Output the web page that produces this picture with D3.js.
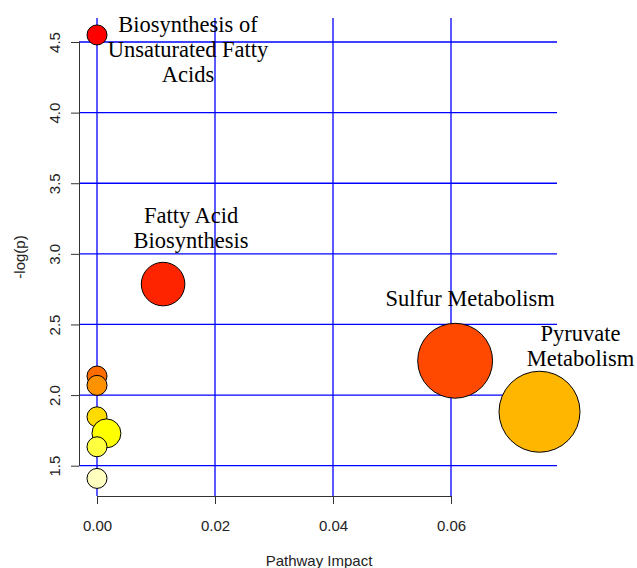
<!DOCTYPE html>
<html>
<head>
<meta charset="utf-8">
<script src="https://cdn.jsdelivr.net/npm/d3@7/dist/d3.min.js"></script>
<style>
  html, body { margin: 0; padding: 0; background: #fff; }
  svg { display: block; }
</style>
</head>
<body>
<svg id="chart" width="637" height="568"></svg>
<script>
// ---------------- data ----------------
const pathways = [
  "Biosynthesis of Unsaturated Fatty Acids",
  "Fatty Acid Biosynthesis",
  "Sulfur Metabolism",
  "Pathway 4",
  "Pathway 5",
  "Pyruvate Metabolism",
  "Pathway 7",
  "Pathway 8",
  "Pathway 9",
  "Pathway 10"
];
const impact = [0.0, 0.0112, 0.0607, 0.0, 0.0, 0.0750, 0.0, 0.0016, 0.0, 0.0];
const logp   = [4.55, 2.786, 2.243, 2.135, 2.069, 1.882, 1.846, 1.729, 1.634, 1.41];
const xTicks = [0.00, 0.02, 0.04, 0.06];
const yTicks = [1.5, 2.0, 2.5, 3.0, 3.5, 4.0, 4.5];
const labelLines = {
  0: ["Biosynthesis of", "Unsaturated Fatty", "Acids"],
  1: ["Fatty Acid", "Biosynthesis"],
  2: ["Sulfur Metabolism"],
  5: ["Pyruvate", "Metabolism"]
};

// ---------------- helpers ----------------
// R's heat.colors(n)
function heatColors(n) {
  const j = Math.floor(n / 4), i = n - j;
  const out = [];
  for (let k = 0; k < i; k++) {
    const h = (i > 1 ? k / (i - 1) : 0) * (1 / 6) * 360;
    out.push(d3.hsl(h, 1, 0.5).formatHex());
  }
  for (let k = 0; k < j; k++) {
    const s = j > 1 ? (1 - 1 / (2 * j)) + k * ((1 / (2 * j)) - (1 - 1 / (2 * j))) / (j - 1) : 1 - 1 / (2 * j);
    out.push(d3.rgb(255, 255, Math.round(255 * (1 - s))).formatHex());
  }
  return out;
}

const svg = d3.select("#chart");
const plot = { left: 79, right: 557, top: 18, bottom: 496 };

const x = d3.scaleLinear().domain([0, 0.06]).range([97, 451]);
const y = d3.scaleLinear().domain([1.5, 4.5]).range([465.7, 42]);
const r = d3.scaleSqrt().domain([0, 0.075]).range([10, 40.5]);

const rankOrder = d3.range(logp.length).sort((a, b) => logp[b] - logp[a]);
const palette = heatColors(logp.length);
const color = {};
rankOrder.forEach((idx, k) => color[idx] = palette[k]);

// ---------------- grid ----------------
const grid = svg.append("g");
grid.selectAll("line.h").data(yTicks).join("line")
  .attr("x1", plot.left).attr("x2", plot.right)
  .attr("y1", d => y(d)).attr("y2", d => y(d))
  .attr("stroke", "#0000ff").attr("stroke-width", 1.3);
grid.selectAll("line.v").data(xTicks).join("line")
  .attr("y1", plot.top).attr("y2", plot.bottom)
  .attr("x1", d => x(d)).attr("x2", d => x(d))
  .attr("stroke", "#0000ff").attr("stroke-width", 1.3);

// ---------------- axes ----------------
const xAxis = svg.append("g")
  .attr("transform", `translate(0,${plot.bottom})`)
  .call(d3.axisBottom(x).tickValues(xTicks).tickFormat(d3.format(".2f")).tickSize(8).tickSizeOuter(0));
xAxis.select(".domain").attr("stroke", "#333").attr("d", `M${x(0)},0.5H${x(0.06)}`);
xAxis.selectAll(".tick line").attr("stroke", "#333");
xAxis.selectAll(".tick text")
  .attr("font-family", "Liberation Sans, Arial, sans-serif")
  .attr("font-size", 15).attr("fill", "#222").attr("dy", null).attr("y", 29)
  .attr("dominant-baseline", "central");

const yAxis = svg.append("g")
  .attr("transform", `translate(${plot.left},0)`)
  .call(d3.axisLeft(y).tickValues(yTicks).tickFormat(d3.format(".1f")).tickSize(8).tickSizeOuter(0));
yAxis.select(".domain").attr("stroke", "#333").attr("d", `M0.5,${y(1.5)}V${y(4.5)}`);
yAxis.selectAll(".tick line").attr("stroke", "#333");
yAxis.selectAll(".tick text")
  .attr("font-family", "Liberation Sans, Arial, sans-serif")
  .attr("font-size", 15).attr("fill", "#222")
  .attr("x", null).attr("dy", null)
  .attr("text-anchor", "middle").attr("dominant-baseline", "central")
  .attr("transform", "translate(-25,0) rotate(-90)");

svg.append("text")
  .attr("x", (plot.left + plot.right) / 2 + 1).attr("y", 560)
  .attr("text-anchor", "middle").attr("dominant-baseline", "central")
  .attr("font-family", "Liberation Sans, Arial, sans-serif").attr("font-size", 15).attr("fill", "#222")
  .text("Pathway Impact");
svg.append("text")
  .attr("transform", `translate(19,${(plot.top + plot.bottom) / 2}) rotate(-90)`)
  .attr("text-anchor", "middle").attr("dominant-baseline", "central")
  .attr("font-family", "Liberation Sans, Arial, sans-serif").attr("font-size", 15).attr("fill", "#222")
  .text("-log(p)");

// ---------------- points ----------------
svg.append("g").selectAll("circle").data(rankOrder).join("circle")
  .attr("cx", i => x(impact[i])).attr("cy", i => y(logp[i]))
  .attr("r", i => r(impact[i]))
  .attr("fill", i => color[i])
  .attr("stroke", "#000").attr("stroke-width", 1);

// ---------------- labels ----------------
const labelOffset = { 0: [91, -10], 1: [28, -69], 2: [15, -62], 5: [41, -78] };
const lineGap = 25;
const lab = svg.append("g");
Object.keys(labelLines).forEach(k => {
  const i = +k;
  const [dx, dy] = labelOffset[i];
  const cx = x(impact[i]) + dx, cy = y(logp[i]) + dy;
  labelLines[i].forEach((t, j) => {
    lab.append("text")
      .attr("x", cx).attr("y", cy + j * lineGap)
      .attr("text-anchor", "middle").attr("dominant-baseline", "central")
      .attr("font-family", "Liberation Serif, Times New Roman, serif")
      .attr("font-size", 22.5).attr("fill", "#000")
      .text(t);
  });
});
</script>
</body>
</html>
